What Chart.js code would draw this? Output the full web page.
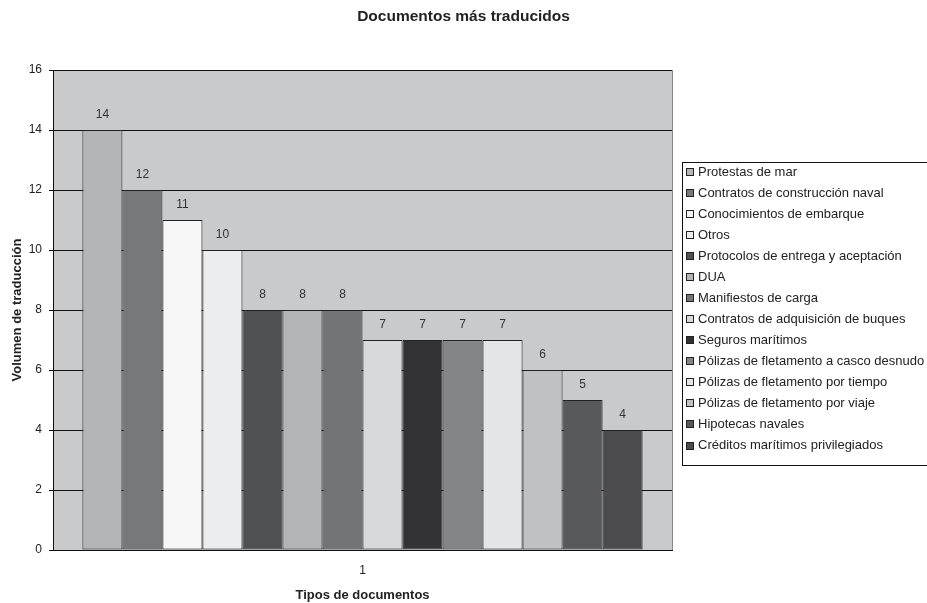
<!DOCTYPE html>
<html>
<head>
<meta charset="utf-8">
<script src="https://cdn.jsdelivr.net/npm/chart.js@4/dist/chart.umd.min.js"></script>
<style>
  html, body { margin: 0; padding: 0; background: #ffffff; overflow: hidden; }
  #wrap { width: 927px; height: 603px; position: relative; }
</style>
</head>
<body>
<div id="wrap"><canvas id="chart" width="927" height="603"></canvas></div>
<script>
// Chart text
const chartTitle = 'Documentos más traducidos';
const xAxisTitle = 'Tipos de documentos';
const yAxisTitle = 'Volumen de traducción';

// Single category on the x axis
const categories = ['1'];

// One series per document type
const documentTypes = [
  'Protestas de mar',
  'Contratos de construcción naval',
  'Conocimientos de embarque',
  'Otros',
  'Protocolos de entrega y aceptación',
  'DUA',
  'Manifiestos de carga',
  'Contratos de adquisición de buques',
  'Seguros marítimos',
  'Pólizas de fletamento a casco desnudo',
  'Pólizas de fletamento por tiempo',
  'Pólizas de fletamento por viaje',
  'Hipotecas navales',
  'Créditos marítimos privilegiados'
];

// Translation volume for each document type
const volumes = [14, 12, 11, 10, 8, 8, 8, 7, 7, 7, 7, 6, 5, 4];

// Y axis range
const yMin = 0;
const yMax = 16;
const yStep = 2;

// Grey fill for each series
const barColors = [
  '#b4b5b7', '#77787a', '#f7f7f7', '#ecedee', '#4f5052', '#b3b4b6', '#737476',
  '#d8d9db', '#333234', '#848587', '#e4e5e7', '#c0c1c3', '#58595b', '#4b4b4d'
];

const FONT = '"Liberation Sans", Arial, Helvetica, sans-serif';
Chart.defaults.font.family = FONT;
Chart.defaults.color = '#222222';

const datasets = documentTypes.map((name, i) => ({
  label: name,
  data: [volumes[i]],
  backgroundColor: barColors[i],
  borderColor: '#222222',
  borderWidth: 1,
  borderSkipped: false,
  categoryPercentage: 0.905,
  barPercentage: 1.0
}));

// Grey plot background
const plotBackground = {
  id: 'plotBackground',
  beforeDraw(chart) {
    const { ctx, chartArea: a } = chart;
    ctx.save();
    ctx.fillStyle = '#c9cacc';
    ctx.fillRect(a.left, a.top, a.right - a.left, a.bottom - a.top);
    ctx.restore();
  }
};

// Value labels above each bar
const valueLabels = {
  id: 'valueLabels',
  afterDatasetsDraw(chart) {
    const { ctx } = chart;
    ctx.save();
    ctx.font = '12px ' + FONT;
    ctx.fillStyle = '#333333';
    ctx.textAlign = 'center';
    ctx.textBaseline = 'middle';
    chart.data.datasets.forEach((ds, i) => {
      const meta = chart.getDatasetMeta(i);
      meta.data.forEach((bar, j) => {
        ctx.fillText(String(ds.data[j]), bar.x, bar.y - 15);
      });
    });
    ctx.restore();
  }
};

// Plot frame, title and boxed legend
const frameTitleLegend = {
  id: 'frameTitleLegend',
  afterDraw(chart) {
    const { ctx, chartArea: a } = chart;
    ctx.save();

    // right edge of the plot frame
    ctx.strokeStyle = '#8a8a8a';
    ctx.lineWidth = 1;
    ctx.beginPath();
    ctx.moveTo(Math.round(a.right) + 0.5, a.top);
    ctx.lineTo(Math.round(a.right) + 0.5, a.bottom);
    ctx.stroke();

    // title
    ctx.fillStyle = '#222222';
    ctx.font = 'bold 15.5px ' + FONT;
    ctx.textAlign = 'center';
    ctx.textBaseline = 'middle';
    ctx.fillText(chartTitle, chart.width / 2, 17);

    // legend box
    const boxX = 682, boxY = 162, boxW = 270, boxH = 303;
    ctx.fillStyle = '#ffffff';
    ctx.fillRect(boxX, boxY, boxW, boxH);
    ctx.strokeStyle = '#111111';
    ctx.strokeRect(boxX + 0.5, boxY + 0.5, boxW, boxH);

    const firstY = 172, stepY = 21.04;
    ctx.font = '13px ' + FONT;
    ctx.textAlign = 'left';
    ctx.textBaseline = 'middle';
    chart.data.datasets.forEach((ds, i) => {
      const cy = firstY + i * stepY;
      const sy = Math.round(cy - 4);
      ctx.fillStyle = ds.backgroundColor;
      ctx.fillRect(686, sy, 8, 8);
      ctx.strokeStyle = '#222222';
      ctx.strokeRect(686.5, sy + 0.5, 7, 7);
      ctx.fillStyle = '#222222';
      ctx.fillText(ds.label, 698, cy);
    });
    ctx.restore();
  }
};

new Chart(document.getElementById('chart'), {
  type: 'bar',
  data: { labels: categories, datasets },
  options: {
    responsive: false,
    animation: false,
    devicePixelRatio: 1,
    layout: { padding: { top: 70, right: 255, bottom: 0, left: 0 } },
    plugins: {
      legend: { display: false },
      title: { display: false },
      tooltip: { enabled: false }
    },
    scales: {
      x: {
        grid: { display: false, drawTicks: false },
        border: { display: true, color: '#111111', width: 1 },
        ticks: { font: { size: 12 }, color: '#222222', padding: 13 },
        title: {
          display: true, text: xAxisTitle, color: '#222222',
          font: { size: 13, weight: 'bold' }, padding: { top: 0, bottom: 0 }
        },
        afterFit(scale) { scale.height = 53; }
      },
      y: {
        min: yMin, max: yMax,
        ticks: { stepSize: yStep, font: { size: 12 }, color: '#222222', padding: 7 },
        grid: { color: '#111111', lineWidth: 1, drawTicks: true, tickLength: 4 },
        border: { display: true, color: '#111111', width: 1 },
        title: {
          display: true, text: yAxisTitle, color: '#222222',
          font: { size: 13, weight: 'bold' }, padding: { top: 10, bottom: 0 }
        },
        afterFit(scale) { scale.width = 53; }
      }
    }
  },
  plugins: [plotBackground, valueLabels, frameTitleLegend]
});
</script>
</body>
</html>
